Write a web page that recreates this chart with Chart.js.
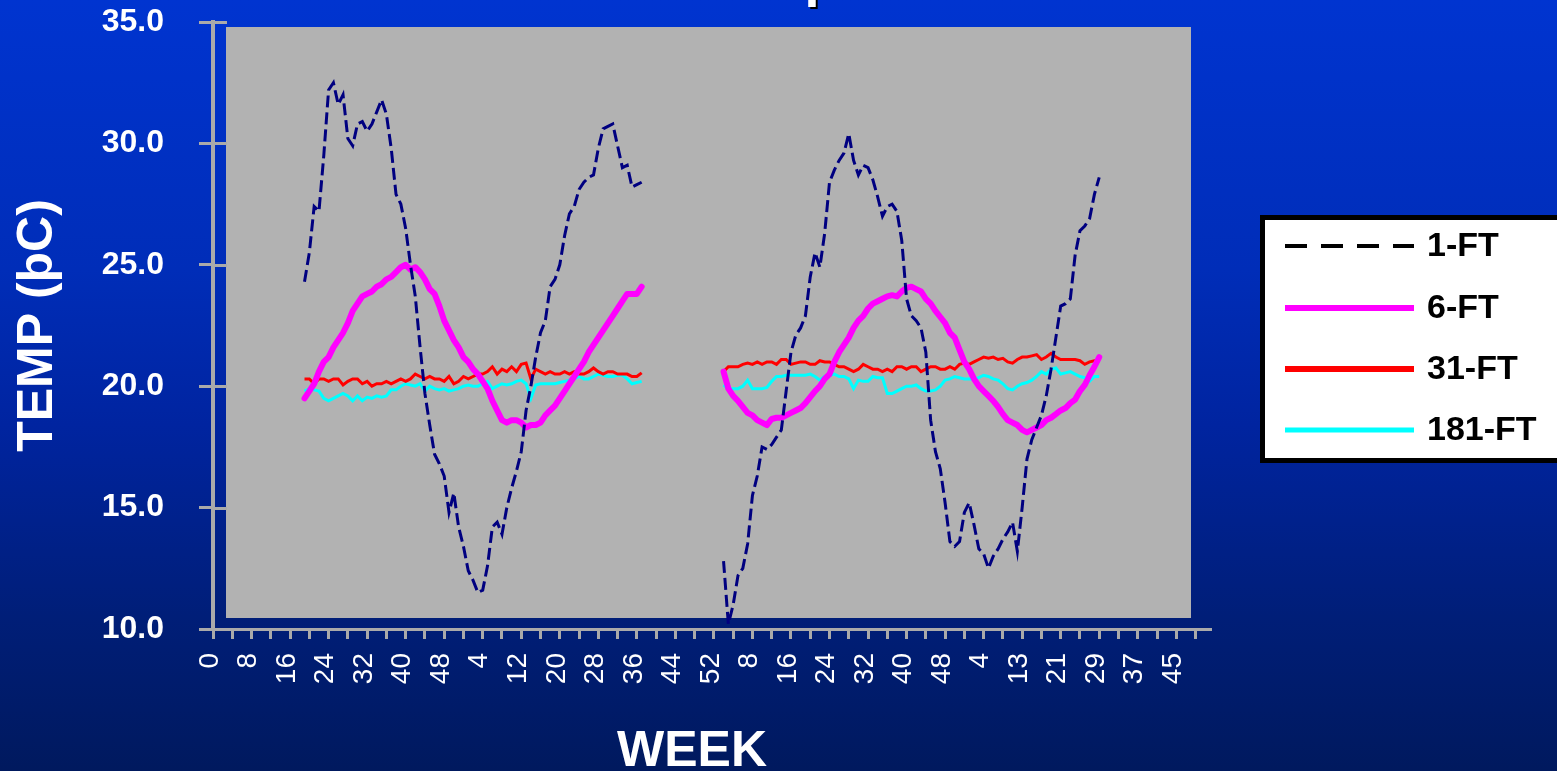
<!DOCTYPE html>
<html>
<head>
<meta charset="utf-8">
<script src="https://cdn.jsdelivr.net/npm/chart.js@4.4.1/dist/chart.umd.min.js"></script>
<style>
html,body{margin:0;padding:0;width:1557px;height:771px;overflow:hidden;
background:linear-gradient(to bottom,#0034d0 0%,#002db8 35%,#0024a0 55%,#001e78 80%,#00195e 100%);}
canvas{display:block}
</style>
</head>
<body>
<canvas id="c" width="1557" height="771"></canvas>
<script>
// ---- category (week) tick labels ----
const weeksYear1 = [0,1,2,3,4,5,6,7,8,9,10,11,12,13,14,15,16,17,18,19,20,21,22,23,24,25,26,27,28,29,30,31,32,33,34,35,36,37,38,39,40,41,42,43,44,45,46,47,48,49,50,51];
const weeksYear2 = [0,1,2,3,4,5,6,7,8,9,10,11,12,13,14,15,16,17,18,19,20,21,22,23,24,25,26,27,28,29,30,31,32,33,34,35,36,37,38,39,40,41,42,43,44,45,46,47,48,49,50,51,52];
const weeksYear3 = [1,2,3,4,5,6,7,8,9,10,11,12,13,14,15,16,17,18,19,20,21,22,23,24,25,26,27,28,29,30,31,32,33,34,35,36,37,38,39,40,41,42,43,44,45,46,47,48,49,50,51,52];
const weeksYear4 = [1,2,3,4,6,7,8,9,10,11,12,13,14,15,16,17,18,19,20,21,22,23,24,25,26,27,28,29,30,31,32,33,34,35,36,37,38,39,40,41,42,43,44,45,46,47,48,49,50,51,52];

// ---- y axis ----
const yMin = 10, yMax = 35, yStep = 5;

// ---- series: two measuring periods, starting at these category indices ----
const SEG1_START = 19;
const SEG2_START = 106;

const seriesNames = ['1-FT', '6-FT', '31-FT', '181-FT'];

const ft1_seg1 = [24.3,25.5,27.4,27.2,29.5,32.2,32.5,31.6,32.0,30.2,
  29.9,30.8,30.9,30.5,30.8,31.3,31.8,31.2,29.8,27.9,
  27.5,26.5,25.0,23.7,21.6,19.7,18.4,17.2,16.8,16.3,
  14.8,15.6,14.2,13.4,12.4,12.0,11.5,11.6,12.6,14.2,
  14.4,13.9,15.0,15.8,16.5,17.3,19.0,20.0,21.2,22.2,
  22.7,24.1,24.4,25.0,26.2,27.1,27.4,28.1,28.4,28.6,
  28.7,29.8,30.6,30.7,30.8,29.9,29.0,29.1,28.2,28.3,
  28.4];
const ft1_seg2 = [12.8,10.2,11.0,12.2,12.5,13.5,15.5,16.3,17.5,17.4,
  17.6,17.9,18.2,19.8,21.4,22.1,22.4,22.9,24.5,25.5,
  24.9,26.3,28.4,28.9,29.3,29.6,30.4,29.3,28.7,29.1,
  29.0,28.5,27.8,27.0,27.4,27.5,27.2,26.0,23.6,22.9,
  22.7,22.4,21.4,18.6,17.3,16.6,15.2,13.6,13.4,13.6,
  14.8,15.2,14.3,13.3,13.1,12.5,13.0,13.3,13.7,14.0,
  14.4,13.2,15.0,17.0,17.8,18.3,18.8,19.6,20.7,22.0,
  23.3,23.4,23.6,25.4,26.4,26.6,26.9,27.9,28.6];

const ft6_seg1 = [19.5,19.8,20.1,20.6,21.0,21.2,21.6,21.9,22.2,22.6,
  23.1,23.4,23.7,23.8,23.9,24.1,24.2,24.4,24.5,24.7,
  24.9,25.0,24.8,24.9,24.7,24.4,24.0,23.8,23.3,22.7,
  22.3,21.9,21.6,21.2,21.0,20.7,20.5,20.2,19.9,19.4,
  19.0,18.6,18.5,18.6,18.6,18.5,18.3,18.4,18.4,18.5,
  18.8,19.0,19.2,19.5,19.8,20.1,20.4,20.7,21.0,21.4,
  21.7,22.0,22.3,22.6,22.9,23.2,23.5,23.8,23.8,23.8,
  24.1];
const ft6_seg2 = [20.6,19.9,19.6,19.4,19.15,18.9,18.8,18.6,18.5,18.4,
  18.65,18.7,18.7,18.8,18.9,19.0,19.1,19.3,19.55,19.8,
  20.0,20.3,20.5,21.0,21.4,21.7,22.0,22.4,22.7,22.9,
  23.2,23.4,23.5,23.6,23.7,23.75,23.7,23.9,24.05,24.1,
  24.0,23.9,23.6,23.4,23.1,22.85,22.6,22.2,22.0,21.5,
  21.0,20.7,20.3,20.0,19.8,19.6,19.4,19.15,18.85,18.6,
  18.5,18.4,18.2,18.1,18.2,18.3,18.4,18.6,18.7,18.85,
  19.0,19.1,19.3,19.45,19.8,20.05,20.45,20.8,21.2];

const ft31_seg1 = [20.3,20.3,20.1,20.3,20.3,20.2,20.3,20.3,20.05,20.2,
  20.3,20.3,20.1,20.2,20.0,20.1,20.1,20.2,20.1,20.2,
  20.3,20.2,20.3,20.5,20.4,20.3,20.4,20.3,20.3,20.2,
  20.4,20.1,20.2,20.4,20.3,20.4,20.5,20.5,20.6,20.8,
  20.5,20.7,20.6,20.8,20.6,20.9,20.95,20.3,20.7,20.6,
  20.5,20.6,20.5,20.5,20.6,20.5,20.6,20.5,20.5,20.6,
  20.75,20.6,20.5,20.6,20.6,20.5,20.5,20.5,20.4,20.4,
  20.55];
const ft31_seg2 = [20.6,20.8,20.8,20.8,20.9,20.95,20.9,21.0,20.9,21.0,
  21.0,20.9,21.1,21.1,20.9,20.95,21.0,21.0,20.9,20.9,
  21.05,21.0,21.0,20.9,20.8,20.8,20.7,20.6,20.7,20.9,
  20.8,20.7,20.7,20.6,20.7,20.6,20.8,20.8,20.7,20.8,
  20.8,20.6,20.7,20.8,20.8,20.7,20.7,20.8,20.7,20.9,
  20.95,20.9,21.0,21.1,21.2,21.15,21.2,21.1,21.15,21.0,
  20.95,21.1,21.2,21.2,21.25,21.3,21.1,21.2,21.35,21.2,
  21.1,21.1,21.1,21.1,21.05,20.9,21.0,21.05,21.0];

const ft181_seg1 = [19.8,19.9,19.85,19.8,19.5,19.4,19.5,19.6,19.7,19.6,
  19.4,19.6,19.4,19.55,19.5,19.6,19.55,19.6,19.85,19.85,
  20.0,20.1,20.05,20.0,20.1,19.8,20.0,19.9,19.85,19.9,
  19.8,19.85,19.9,20.0,20.05,20.0,20.0,20.1,20.2,19.9,
  20.0,20.1,20.05,20.1,20.2,20.25,20.1,19.5,20.05,20.1,
  20.1,20.1,20.1,20.15,20.2,20.25,20.3,20.4,20.3,20.3,
  20.4,20.5,20.45,20.4,20.4,20.45,20.45,20.3,20.1,20.15,
  20.2];
const ft181_seg2 = [20.05,19.9,19.9,19.9,20.0,20.25,19.9,19.9,19.9,19.95,
  20.2,20.4,20.4,20.45,20.45,20.45,20.45,20.45,20.5,20.4,
  20.25,20.4,20.45,20.5,20.4,20.4,20.3,19.9,20.25,20.2,
  20.2,20.4,20.35,20.35,19.7,19.7,19.8,19.9,20.0,20.0,
  20.05,19.9,19.8,19.8,19.85,20.0,20.25,20.3,20.4,20.35,
  20.3,20.3,20.3,20.35,20.45,20.4,20.3,20.25,20.1,19.9,
  19.85,20.0,20.1,20.15,20.25,20.4,20.6,20.5,20.7,20.75,
  20.5,20.55,20.6,20.5,20.4,20.35,20.2,20.4,20.4];

// ---- build the library's tables ----
const weekLabels = [...weeksYear1, ...weeksYear2, ...weeksYear3, ...weeksYear4].map(String);
const N = weekLabels.length;
function place(seg1, seg2) {
  const arr = new Array(N).fill(null);
  seg1.forEach((v, i) => { arr[SEG1_START + i] = v; });
  seg2.forEach((v, i) => { arr[SEG2_START + i] = v; });
  return arr;
}

const FONT = '"Liberation Sans", Arial, Helvetica, sans-serif';
const AXIS_GRAY = '#aaaaaa';

const legendStyles = [
  { color: '#000000', width: 4, dash: [22, 14] },
  { color: '#ff00ff', width: 6, dash: [] },
  { color: '#ff0000', width: 6, dash: [] },
  { color: '#00ffff', width: 5, dash: [] }
];

const plotBg = {
  id: 'plotBg',
  beforeDraw(chart) {
    const { ctx, chartArea: a } = chart;
    ctx.save();
    ctx.fillStyle = '#b2b2b2';
    const l = a.left + 13, t = a.top + 5, r = a.right - 19, b = a.bottom - 11;
    ctx.fillRect(l, t, r - l, b - t);
    ctx.restore();
  }
};

const innerTicks = {
  id: 'innerTicks',
  beforeDatasetsDraw(chart) {
    const { ctx, chartArea: a } = chart;
    const ys = chart.scales.y;
    ctx.save();
    ctx.strokeStyle = AXIS_GRAY;
    ctx.lineWidth = 3;
    ctx.beginPath();
    ys.ticks.forEach(t => {
      const y = Math.round(ys.getPixelForValue(t.value)) + 0.5;
      ctx.moveTo(a.left, y);
      ctx.lineTo(a.left + 14, y);
    });
    ctx.stroke();
    ctx.restore();
  }
};

const extras = {
  id: 'extras',
  afterDraw(chart) {
    const { ctx } = chart;
    ctx.save();
    // clipped title fragment at the very top
    ctx.font = 'bold 54px ' + FONT;
    ctx.textAlign = 'left';
    ctx.textBaseline = 'alphabetic';
    ctx.fillStyle = '#000';
    ctx.fillText('p', 806.5, -2);
    ctx.fillStyle = '#fff';
    ctx.fillText('p', 804.5, -4);

    // x axis title
    ctx.font = 'bold 50px ' + FONT;
    ctx.textAlign = 'center';
    ctx.fillStyle = '#fff';
    ctx.fillText('WEEK', 692, 766);

    // legend box
    ctx.fillStyle = '#ffffff';
    ctx.fillRect(1262, 217, 400, 244);
    ctx.lineWidth = 5;
    ctx.strokeStyle = '#000';
    ctx.strokeRect(1262.5, 217.5, 400, 243);
    const rows = [246, 308, 369, 430];
    chart.data.datasets.forEach((ds, i) => {
      const st = legendStyles[i];
      const y = rows[i];
      ctx.beginPath();
      ctx.setLineDash(st.dash);
      ctx.lineWidth = st.width;
      ctx.strokeStyle = st.color;
      ctx.lineCap = 'butt';
      ctx.moveTo(1285, y);
      ctx.lineTo(1414, y);
      ctx.stroke();
      ctx.setLineDash([]);
      ctx.font = 'bold 34px ' + FONT;
      ctx.textAlign = 'left';
      ctx.textBaseline = 'middle';
      ctx.fillStyle = '#000';
      ctx.fillText(ds.label, 1427, y + 1);
    });
    ctx.restore();
  }
};

new Chart(document.getElementById('c'), {
  type: 'line',
  data: {
    labels: weekLabels,
    datasets: [
      { label: seriesNames[0], data: place(ft1_seg1, ft1_seg2), borderColor: '#000080', borderWidth: 3, borderDash: [12, 5] },
      { label: seriesNames[1], data: place(ft6_seg1, ft6_seg2), borderColor: '#ff00ff', borderWidth: 6, borderJoinStyle: 'round', borderCapStyle: 'round' },
      { label: seriesNames[2], data: place(ft31_seg1, ft31_seg2), borderColor: '#ff0000', borderWidth: 3 },
      { label: seriesNames[3], data: place(ft181_seg1, ft181_seg2), borderColor: '#00ffff', borderWidth: 3 }
    ]
  },
  options: {
    responsive: false,
    animation: false,
    devicePixelRatio: 1,
    spanGaps: false,
    layout: { padding: { top: 22, right: 347, left: 0, bottom: 0 } },
    elements: { point: { radius: 0, hoverRadius: 0 }, line: { tension: 0, fill: false } },
    plugins: { legend: { display: false }, tooltip: { enabled: false }, title: { display: false } },
    scales: {
      x: {
        type: 'category',
        offset: false,
        grid: {
          drawOnChartArea: false,
          drawTicks: true,
          tickLength: 10,
          lineWidth: 3,
          color: ctx => (ctx.index % 4 === 0 ? AXIS_GRAY : 'rgba(0,0,0,0)')
        },
        border: { display: true, color: AXIS_GRAY, width: 3 },
        ticks: {
          autoSkip: false,
          maxRotation: 90,
          minRotation: 90,
          padding: 14,
          labelOffset: -3,
          color: '#ffffff',
          font: { family: FONT, size: 28 },
          callback: function (value, index) {
            return index % 8 === 0 ? this.getLabelForValue(value) : '';
          }
        },
        afterFit: s => { s.height = 142; s.paddingLeft = 0; s.paddingRight = 0; }
      },
      y: {
        min: yMin,
        max: yMax,
        grid: { drawOnChartArea: false, drawTicks: true, tickLength: 14, lineWidth: 3, color: AXIS_GRAY },
        border: { display: true, color: AXIS_GRAY, width: 4 },
        ticks: {
          stepSize: yStep,
          padding: 35,
          color: '#ffffff',
          font: { family: FONT, size: 32, weight: 'bold' },
          callback: v => Number(v).toFixed(1)
        },
        title: {
          display: true,
          text: 'TEMP (þC)',
          color: '#ffffff',
          font: { family: FONT, size: 50, weight: 'bold' },
          padding: { top: 8, bottom: 0 }
        },
        afterFit: s => { s.width = 213; s.paddingTop = 0; s.paddingBottom = 0; }
      }
    }
  },
  plugins: [plotBg, innerTicks, extras]
});
</script>
</body>
</html>
